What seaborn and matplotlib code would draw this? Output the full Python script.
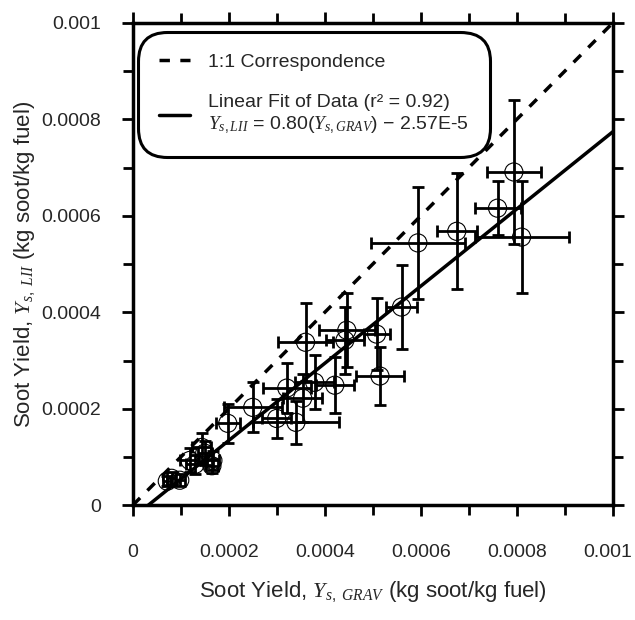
import numpy as np
import matplotlib
matplotlib.use("Agg")
import matplotlib.pyplot as plt
import seaborn as sns
import pandas as pd
from matplotlib.lines import Line2D
from matplotlib.ticker import MultipleLocator, FuncFormatter

# gravimetric soot yield (x), LII soot yield (y) and their error bars
x_grav = [0.000794, 0.000760, 0.000810, 0.000675, 0.000594, 0.000560, 0.000508,
          0.000515, 0.000446, 0.000442, 0.000360, 0.000421, 0.000379, 0.000321,
          0.000354, 0.000250, 0.000300, 0.000340, 0.000198, 0.000144, 0.000150,
          0.000119, 0.000167, 0.000081, 0.000098, 0.000072, 0.000130, 0.000165]
y_lii = [0.000691, 0.000616, 0.000556, 0.000568, 0.000544, 0.000411, 0.000355,
         0.000268, 0.000363, 0.000342, 0.000338, 0.000249, 0.000255, 0.000243,
         0.000222, 0.000203, 0.000180, 0.000172, 0.000170, 0.000120, 0.000108,
         0.000093, 0.000093, 0.000056, 0.000052, 0.000050, 0.000085, 0.000082]
x_err = [0.000056, 0.000048, 0.000098, 0.000042, 0.000098, 0.000033, 0.000027,
         0.000050, 0.000058, 0.000040, 0.000058, 0.000040, 0.000040, 0.000050,
         0.000040, 0.000060, 0.000030, 0.000090, 0.000025, 0.000020, 0.000015,
         0.000020, 0.000012, 0.000010, 0.000010, 0.000008, 0.000020, 0.000012]
y_err = [0.000149, 0.000056, 0.000116, 0.000120, 0.000116, 0.000087, 0.000075,
         0.000060, 0.000077, 0.000070, 0.000081, 0.000058, 0.000056, 0.000052,
         0.000050, 0.000052, 0.000040, 0.000045, 0.000041, 0.000030, 0.000025,
         0.000025, 0.000020, 0.000012, 0.000012, 0.000010, 0.000020, 0.000015]

fit_slope = 0.80
fit_intercept = -2.57e-5
axis_max = 0.001

sns.set_style("ticks")
plt.rcParams["font.family"] = ["Liberation Sans", "DejaVu Sans"]
plt.rcParams["mathtext.fontset"] = "custom"
plt.rcParams["mathtext.it"] = "Liberation Serif:italic"
plt.rcParams["mathtext.rm"] = "Liberation Sans"

df = pd.DataFrame({"x": x_grav, "y": y_lii, "xerr": x_err, "yerr": y_err})

fig = plt.figure(figsize=(6.35, 6.2), dpi=100)
ax = fig.add_axes([0.209, 0.185, 0.756, 0.778])

# error bars
ax.errorbar(df["x"], df["y"], xerr=df["xerr"], yerr=df["yerr"], fmt="none",
            ecolor="black", elinewidth=2.0, capsize=4.5, capthick=2.0, zorder=2)

# open circles
sns.scatterplot(data=df, x="x", y="y", ax=ax, marker="o", s=170,
                facecolor="none", edgecolor="black", linewidth=0.8, zorder=3)

# 1:1 line and linear fit
one_x = np.array([0, axis_max])
ax.plot(one_x, one_x, color="black", lw=2.5, ls=(0, (3, 3)), zorder=4)
x0 = -fit_intercept / fit_slope
fit_x = np.array([x0, axis_max])
ax.plot(fit_x, fit_slope * fit_x + fit_intercept, color="black", lw=2.5, zorder=4)

ax.set_xlim(0, axis_max)
ax.set_ylim(0, axis_max)
ax.xaxis.set_major_locator(MultipleLocator(0.0002))
ax.yaxis.set_major_locator(MultipleLocator(0.0002))
ax.xaxis.set_minor_locator(MultipleLocator(0.0001))
ax.yaxis.set_minor_locator(MultipleLocator(0.0001))


def tick_fmt(v, p):
    return ("%.4f" % v).rstrip("0").rstrip(".")


# last x label is drawn separately so it is not clipped at the figure edge
ax.xaxis.set_major_formatter(FuncFormatter(
    lambda v, p: "" if abs(v - axis_max) < 1e-9 else tick_fmt(v, p)))
ax.yaxis.set_major_formatter(FuncFormatter(tick_fmt))
ax.tick_params(which="both", direction="out", top=True, right=True,
               width=2.0, labelsize=14, color="black")
ax.tick_params(which="major", length=8)
ax.tick_params(which="minor", length=7)
ax.tick_params(axis="x", which="major", pad=20)
ax.tick_params(axis="y", which="major", pad=15)
for s in ax.spines.values():
    s.set_linewidth(2.5)
    s.set_color("black")

ax.annotate(tick_fmt(axis_max, None), xy=(axis_max, 0), xycoords="data",
            xytext=(-4, -28), textcoords="offset points",
            ha="center", va="top", fontsize=14, annotation_clip=False)

ax.set_xlabel("Soot Yield, $Y_{s,\\ GRAV}$ (kg soot/kg fuel)", fontsize=16)
ax.set_ylabel("Soot Yield, $Y_{s,\\ LII}$ (kg soot/kg fuel)", fontsize=16)
ax.xaxis.set_label_coords(0.5, -0.152)
ax.yaxis.set_label_coords(-0.2, 0.5)

handles = [Line2D([], [], color="black", lw=2.5, ls=(0, (3, 3))),
           Line2D([], [], color="black", lw=2.5)]
labels = ["1:1 Correspondence",
          "Linear Fit of Data (r² = 0.92)\n$Y_{s,LII}$ = 0.80($Y_{s,GRAV}$) \u2212 2.57E-5"]
leg = ax.legend(handles, labels, loc="upper left", bbox_to_anchor=(0.01, 0.981),
                fontsize=14, handlelength=1.6, handletextpad=0.9,
                labelspacing=1.2, borderpad=1.1, borderaxespad=0,
                frameon=True, fancybox=True, framealpha=1, edgecolor="black")
leg.get_frame().set_linewidth(2.2)
leg.get_frame().set_boxstyle("round", pad=0.0, rounding_size=1.5)

fig.savefig("out.png", dpi=100)
